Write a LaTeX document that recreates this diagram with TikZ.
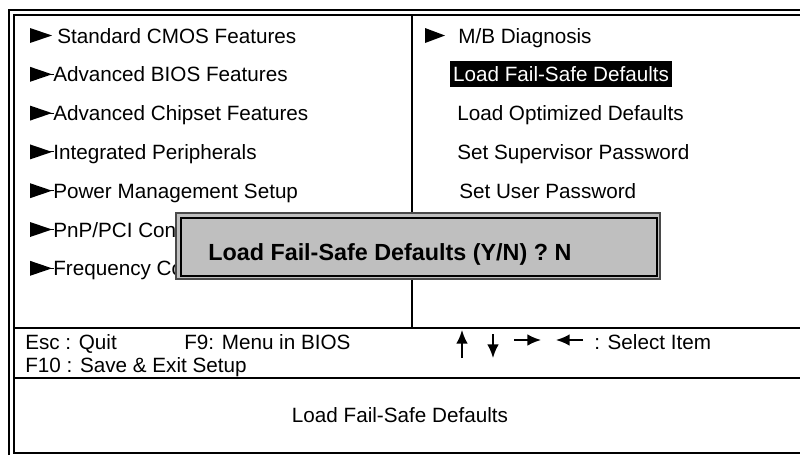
\documentclass[tikz,border=0pt]{standalone}
\usepackage{fontspec}
\setmainfont{Liberation Sans}
\usetikzlibrary{arrows.meta}

\definecolor{dlggray}{HTML}{BFBFBF}
\definecolor{dlgedge}{HTML}{4A4A4A}

\tikzset{
	frame/.style={line width=1.4pt},
	menu/.style={anchor=base west, inner sep=0pt, font=\fontsize{14.7}{17}\selectfont},
	keyarrow/.style={line width=1.3pt, -{Latex[length=3.4mm,width=2.9mm]}},
}

\begin{document}
\begin{tikzpicture}[x=0.025cm, y=-0.025cm]

	\useasboundingbox (0,0) rectangle (800,455);

	% Double frame on top and left, single frame inside
	\draw[frame] (9,455) -- (9,10) -- (800,10);
	\draw[frame] (800,453) -- (14,453) -- (14,15) -- (800,15);

	% Column divider and key bar
	\draw[frame] (412,15) -- (412,328);
	\draw[frame] (14,328) -- (800,328);
	\draw[frame] (14,378) -- (800,378);

	% Left menu arrows
	\foreach \yc in {35.5,74.3,113.1,151.9,190.7,229.5,268.3}
		\fill (30,\yc-7.5) -- (52,\yc) -- (30,\yc+7.5) -- cycle;
	\foreach \yc in {74.3,113.1,151.9,190.7,229.5,268.3}
		\draw[line width=0.7pt] (50,\yc) -- (54,\yc);

	% Left menu items
	\node[menu] (cmos) at (57,43) {Standard CMOS Features};
	\node[menu] (bios) at (53,81.8) {Advanced BIOS Features};
	\node[menu] (chipset) at (53,120.6) {Advanced Chipset Features};
	\node[menu] (periph) at (53,159.4) {Integrated Peripherals};
	\node[menu] (power) at (53,198.2) {Power Management Setup};
	\node[menu] (pnp) at (53,237) {PnP/PCI Configurations};
	\node[menu] (freq) at (53,275.8) {Frequency Control};

	% Right menu items
	\fill (425,35.5-7.5) -- (445,35.5) -- (425,35.5+7.5) -- cycle;
	\node[menu] (diag) at (458,43) {M/B Diagnosis};
	\node[menu, fill=black, text=white, inner xsep=0.07cm,
		text height=0.51cm, text depth=0.14cm] (failsafe) at (450,81.8) {Load Fail-Safe Defaults};
	\node[menu] (optimized) at (457,120.6) {Load Optimized Defaults};
	\node[menu] (superpw) at (457,159.4) {Set Supervisor Password};
	\node[menu] (userpw) at (459,198.2) {Set User Password};

	% Key help
	\node[menu] (esc) at (25,349) {Esc : Quit};
	\node[menu] (f9) at (184,349) {F9: Menu in BIOS};
	\node[menu] (f10) at (25,372) {F10 : Save \& Exit Setup};
	\draw[keyarrow] (462,358) -- (462,330);
	\draw[keyarrow] (493,334) -- (493,358);
	\draw[keyarrow] (514,340) -- (541,340);
	\draw[keyarrow] (583,340) -- (556,340);
	\node[menu] (select) at (594,349) {: Select Item};

	% Item help
	\node[menu, anchor=base] (help) at (400,422) {Load Fail-Safe Defaults};

	% Confirm dialog
	\fill[dlggray] (176,213) rectangle (660,279);
	\draw[dlgedge, line width=0.8pt] (176,213) rectangle (660,279);
	\draw[line width=2.1pt] (181,218) rectangle (657,276);
	\node[menu, font=\fontsize{16.6}{20}\selectfont\bfseries] (confirm) at (208,260) {Load Fail-Safe Defaults (Y/N) ? N};

\end{tikzpicture}
\end{document}
